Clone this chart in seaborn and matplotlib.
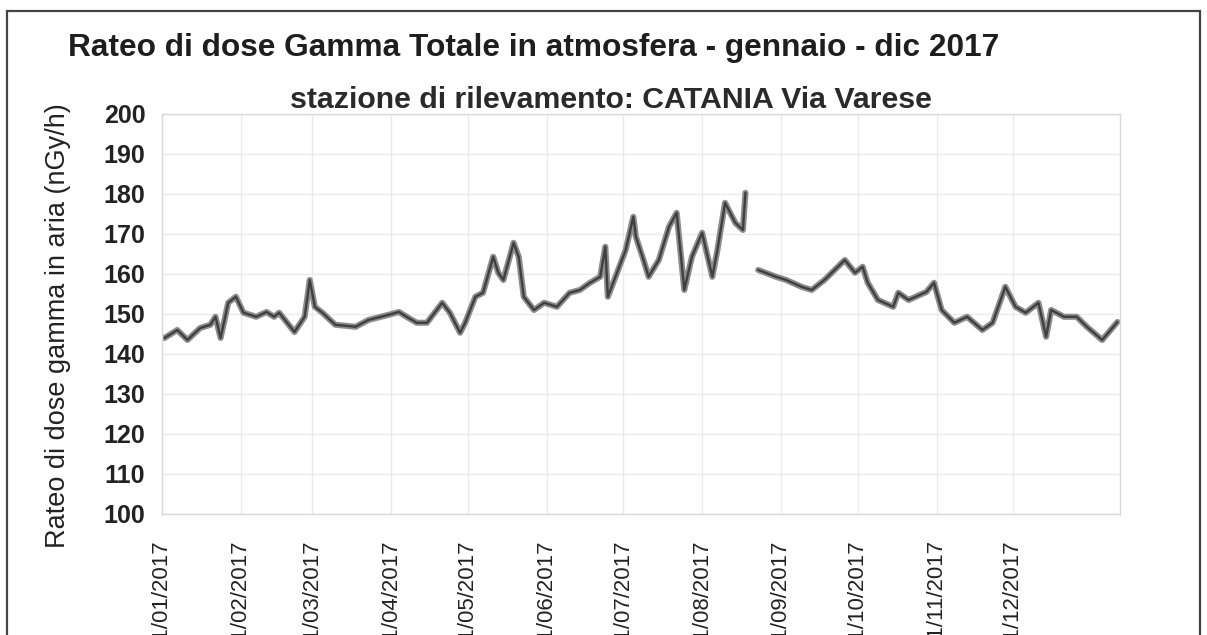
import matplotlib
matplotlib.use("Agg")
import matplotlib.pyplot as plt
import matplotlib.dates as mdates
from matplotlib.patches import Rectangle
import numpy as np
import pandas as pd
import seaborn as sns

# Gamma dose rate readings, station Catania Via Varese (nGy/h)
dates_spring = [
    "2017-01-02", "2017-01-07", "2017-01-11", "2017-01-16", "2017-01-20",
    "2017-01-22", "2017-01-24", "2017-01-27", "2017-01-30", "2017-02-02",
    "2017-02-07", "2017-02-11", "2017-02-14", "2017-02-16", "2017-02-22",
    "2017-02-26", "2017-02-28", "2017-03-02", "2017-03-05", "2017-03-10",
    "2017-03-18", "2017-03-23", "2017-03-31", "2017-04-04", "2017-04-07",
    "2017-04-11", "2017-04-15", "2017-04-21", "2017-04-24", "2017-04-28",
    "2017-04-30", "2017-05-04", "2017-05-07", "2017-05-11", "2017-05-13",
    "2017-05-15", "2017-05-19", "2017-05-21", "2017-05-23", "2017-05-27",
    "2017-05-31", "2017-06-05", "2017-06-10", "2017-06-14", "2017-06-18",
    "2017-06-22", "2017-06-24", "2017-06-25", "2017-06-28", "2017-07-02",
    "2017-07-05", "2017-07-06", "2017-07-09", "2017-07-11", "2017-07-15",
    "2017-07-19", "2017-07-22", "2017-07-25", "2017-07-28", "2017-08-01",
    "2017-08-05", "2017-08-07", "2017-08-10", "2017-08-14", "2017-08-17",
    "2017-08-18",
]
dose_spring = [
    144.0, 146.0, 143.5, 146.5, 147.3,
    149.3, 144.0, 152.8, 154.3, 150.3,
    149.3, 150.5, 149.3, 150.3, 145.5,
    149.3, 158.5, 151.8, 150.3, 147.3,
    146.8, 148.5, 149.8, 150.5, 149.3,
    147.8, 147.8, 152.8, 150.3, 145.3,
    147.8, 154.3, 155.3, 164.3, 160.3,
    158.5, 167.8, 164.3, 154.3, 151.0,
    152.8, 151.8, 155.3, 156.0, 157.8,
    159.3, 166.8, 154.3, 159.3, 166.0,
    174.3, 169.3, 163.5, 159.3, 163.5,
    171.8, 175.3, 156.0, 164.3, 170.3,
    159.3, 166.0, 177.8, 172.8, 171.0,
    180.3,
]

dates_autumn = [
    "2017-08-23", "2017-08-30", "2017-09-03", "2017-09-09", "2017-09-13",
    "2017-09-18", "2017-09-22", "2017-09-26", "2017-09-30", "2017-10-03",
    "2017-10-05", "2017-10-09", "2017-10-15", "2017-10-17", "2017-10-21",
    "2017-10-28", "2017-10-31", "2017-11-03", "2017-11-08", "2017-11-13",
    "2017-11-19", "2017-11-23", "2017-11-28", "2017-12-02", "2017-12-06",
    "2017-12-11", "2017-12-14", "2017-12-16", "2017-12-21", "2017-12-26",
    "2017-12-30", "2018-01-05", "2018-01-11",
]
dose_autumn = [
    161.0, 159.3, 158.5, 156.8, 156.0,
    158.5, 161.0, 163.5, 160.3, 161.8,
    157.8, 153.5, 151.8, 155.3, 153.5,
    155.5, 157.8, 151.0, 147.8, 149.3,
    146.0, 147.8, 156.8, 151.8, 150.3,
    152.8, 144.3, 151.0, 149.3, 149.3,
    146.8, 143.5, 148.0,
]

y_ticks = [100, 110, 120, 130, 140, 150, 160, 170, 180, 190, 200]
month_ticks = pd.date_range("2017-01-01", "2017-12-01", freq="MS")

title = "Rateo di dose Gamma Totale in atmosfera - gennaio - dic 2017"
subtitle = "stazione di rilevamento: CATANIA Via Varese"
y_label = "Rateo di dose gamma in aria (nGy/h)"

df = pd.concat([
    pd.DataFrame({"data": pd.to_datetime(dates_spring), "dose": dose_spring, "tratto": 0}),
    pd.DataFrame({"data": pd.to_datetime(dates_autumn), "dose": dose_autumn, "tratto": 1}),
], ignore_index=True)

sns.set_theme(style="white")
plt.rcParams["font.family"] = ["Liberation Sans", "DejaVu Sans"]

fig = plt.figure(figsize=(12.07, 6.35), dpi=100)
ax = fig.add_axes([0.1342, 0.1906, 0.7937, 0.6299])

# outer frame around the chart
fig.patches.append(Rectangle((0.0058, -0.05), 0.9884, 1.0327, transform=fig.transFigure,
                             fill=False, edgecolor="#444444", linewidth=1.6, zorder=0))

# soft halo + darker core to give the thick grey trace
sns.lineplot(data=df, x="data", y="dose", units="tratto", estimator=None,
             color="#8c8c8c", linewidth=4.4, ax=ax, legend=False)
sns.lineplot(data=df, x="data", y="dose", units="tratto", estimator=None,
             color="#3f3f3f", linewidth=1.7, ax=ax, legend=False)

ax.set_ylim(100, 200)
ax.set_yticks(y_ticks)
ax.set_xlim(pd.Timestamp("2017-01-01"), pd.Timestamp("2018-01-12"))
ax.set_xticks(month_ticks)
ax.xaxis.set_major_formatter(mdates.DateFormatter("%d/%m/%Y"))

ax.grid(True, color="#ebebeb", linewidth=1.0)
for s in ax.spines.values():
    s.set_visible(True)
    s.set_color("#d9d9d9")
    s.set_linewidth(1.0)

ax.tick_params(axis="y", labelsize=18, colors="#222222", pad=12, length=0)
ax.tick_params(axis="x", labelsize=16, colors="#222222", pad=19, length=0, rotation=90)
for lab in ax.get_yticklabels():
    lab.set_fontweight("bold")
for lab in ax.get_xticklabels():
    lab.set_va("top")
    lab.set_ha("center")

ax.set_xlabel("")
ax.set_ylabel(y_label, fontsize=19.5, color="#222222", labelpad=23)
ax.yaxis.label.set_y(0.47)

fig.text(0.0563, 0.925, title, fontsize=22.8, fontweight="bold", color="#1e1e1e",
         ha="left", va="center")
fig.text(0.506, 0.843, subtitle, fontsize=21.8, fontweight="bold", color="#2a2a2a",
         ha="center", va="center")

fig.savefig("out.png", dpi=100)
